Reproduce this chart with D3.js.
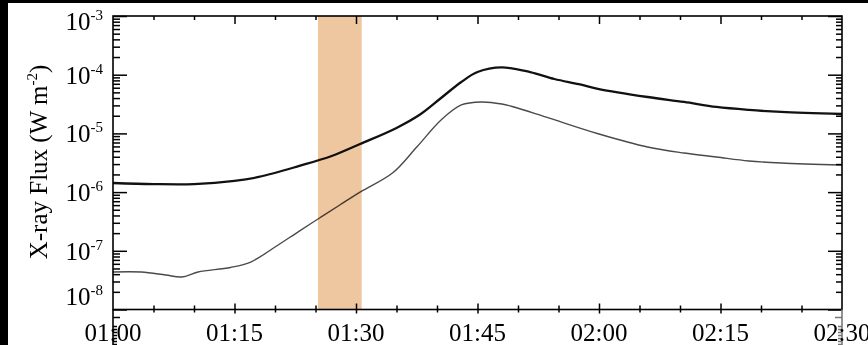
<!DOCTYPE html>
<html><head><meta charset="utf-8">
<script src="https://cdn.jsdelivr.net/npm/d3@7"></script>
<style>
html,body{margin:0;padding:0;background:#fff;}
svg{display:block;}
text{font-family:"Liberation Serif","Times New Roman",serif;fill:#000;}
</style></head>
<body>
<svg id="c" width="868" height="345"></svg>
<script>
// ---- data (minutes after 01:00 UT, flux in W m^-2) ----
const minutesLong = [0,5,10,15,18,23,27,30.5,35,38,40.5,43,45,48,51.5,54.5,57.5,60,66,70.5,74.5,78.5,82.5,90];
const longFlux = [1.43e-6,1.37e-6,1.37e-6,1.55e-6,1.81e-6,2.79e-6,4.12e-6,6.59e-6,1.24e-5,2.14e-5,4.01e-5,7.51e-5,1.11e-4,1.33e-4,1.11e-4,8.45e-5,6.9e-5,5.7e-5,4.17e-5,3.43e-5,2.82e-5,2.51e-5,2.32e-5,2.14e-5];
const minutesShort = [0,3.5,6.5,8.5,10.5,14.5,17,20,23,25.5,28,30.5,34.5,37.5,40.5,43,45.5,48,49.5,53.5,60,66,70.5,74.5,78.5,82.5,90];
const shortFlux = [4.35e-8,4.35e-8,3.87e-8,3.58e-8,4.35e-8,5.2e-8,6.44e-8,1.16e-7,2.17e-7,3.62e-7,6.03e-7,1.00e-6,2.11e-6,5.86e-6,1.69e-5,3.05e-5,3.43e-5,3.17e-5,2.82e-5,1.89e-5,9.77e-6,5.86e-6,4.63e-6,3.96e-6,3.39e-6,3.13e-6,2.90e-6];
const bandMinutes = [25.3, 30.7];
const xTickMinutes = [0,15,30,45,60,75,90];
const xTickLabels = ["01:00","01:15","01:30","01:45","02:00","02:15","02:30"];
const yDecades = [-3,-4,-5,-6,-7,-8];
const yTickLabels = ["-3","-4","-5","-6","-7","-8"];
const yTitle = "X-ray Flux (W m";
const yTitleSup = "-2";

// ---- layout ----
const L = 113, R = 842, T = 16, B = 309.5;
const svg = d3.select("#c");

// black border (top & left) as in the reference image
svg.append("rect").attr("x",0).attr("y",0).attr("width",868).attr("height",3).attr("fill","#000");
svg.append("rect").attr("x",0).attr("y",0).attr("width",8).attr("height",345).attr("fill","#000");

const x = d3.scaleLinear().domain([0,90]).range([L,R]);
const y = d3.scaleLog().domain([1e-8,1e-3]).range([B,T]);

// shaded band
svg.append("rect")
  .attr("x", x(bandMinutes[0])).attr("y", T)
  .attr("width", x(bandMinutes[1]) - x(bandMinutes[0]))
  .attr("height", B - T)
  .attr("fill", "#EEC6A0");

// curves
const line = (xs) => d3.line().x((d,i)=>x(xs[i])).y(d=>y(d)).curve(d3.curveCatmullRom.alpha(0.5));
svg.append("path").datum(shortFlux).attr("d", line(minutesShort))
  .attr("fill","none").attr("stroke","#4a4a4a").attr("stroke-width",1.4)
  .style("mix-blend-mode","multiply");
svg.append("path").datum(longFlux).attr("d", line(minutesLong))
  .attr("fill","none").attr("stroke","#111").attr("stroke-width",2.3)
  .style("mix-blend-mode","multiply");

// ---- axes ----
const minorX = d3.range(0,91,5).filter(m => m % 15 !== 0);
const majorX = xTickMinutes;
const yMajor = yDecades.map(d => Math.pow(10,d));
const yMinor = [];
for (let d=-8; d<-3; d++) for (let k=2;k<=9;k++) yMinor.push(k*Math.pow(10,d));

function styleAxis(g){ g.select(".domain").remove(); g.selectAll("line").attr("stroke","#000").attr("stroke-width",1.5); g.selectAll("text").remove(); }

// bottom: ticks crossing the axis
svg.append("g").attr("transform",`translate(0,${B})`).call(d3.axisBottom(x).tickValues(majorX.slice(1,-1)).tickSizeInner(-6).tickSizeOuter(0)).call(styleAxis);
svg.append("g").attr("transform",`translate(0,${B})`).call(d3.axisBottom(x).tickValues(majorX.slice(1,-1)).tickSizeInner(4).tickSizeOuter(0)).call(styleAxis);
svg.append("g").attr("transform",`translate(0,${B})`).call(d3.axisBottom(x).tickValues(minorX).tickSizeInner(-4).tickSizeOuter(0)).call(styleAxis);
svg.append("g").attr("transform",`translate(0,${B})`).call(d3.axisBottom(x).tickValues(minorX).tickSizeInner(3).tickSizeOuter(0)).call(styleAxis);
// top
svg.append("g").attr("transform",`translate(0,${T})`).call(d3.axisTop(x).tickValues(majorX.slice(1,-1)).tickSizeInner(-8).tickSizeOuter(0)).call(styleAxis);
svg.append("g").attr("transform",`translate(0,${T})`).call(d3.axisTop(x).tickValues(minorX).tickSizeInner(-4).tickSizeOuter(0)).call(styleAxis);
// left
svg.append("g").attr("transform",`translate(${L},0)`).call(d3.axisLeft(y).tickValues(yMajor).tickSizeInner(-14).tickSizeOuter(0)).call(styleAxis);
svg.append("g").attr("transform",`translate(${L},0)`).call(d3.axisLeft(y).tickValues(yMinor).tickSizeInner(-7).tickSizeOuter(0)).call(styleAxis);
// right
svg.append("g").attr("transform",`translate(${R},0)`).call(d3.axisRight(y).tickValues(yMajor).tickSizeInner(-14).tickSizeOuter(0)).call(styleAxis);
svg.append("g").attr("transform",`translate(${R},0)`).call(d3.axisRight(y).tickValues(yMinor).tickSizeInner(-6).tickSizeOuter(0)).call(styleAxis);

// frame
svg.append("rect").attr("x",L).attr("y",T).attr("width",R-L).attr("height",B-T)
  .attr("fill","none").attr("stroke","#000").attr("stroke-width",1.6);

// partial panel below (its y-axis peeks in under the x-axis)
const yLow = d3.scaleLinear().domain([0,10]).range([317,347]);
[[L,1,"#000"],[R,-1,"#777"]].forEach(([px,dir,col])=>{
  svg.append("line").attr("x1",px).attr("x2",px).attr("y1",B).attr("y2",345).attr("stroke",col).attr("stroke-width",1.6);
  const g = svg.append("g").attr("transform",`translate(${px},0)`);
  const ax = dir>0 ? d3.axisLeft(yLow) : d3.axisRight(yLow);
  g.call(ax.tickValues(d3.range(3,10)).tickSizeInner(-4).tickSizeOuter(0)).call(styleAxis);
  g.selectAll("line").attr("stroke",col);
  const g2 = svg.append("g").attr("transform",`translate(${px},0)`);
  g2.call((dir>0 ? d3.axisLeft(yLow) : d3.axisRight(yLow)).tickValues([0]).tickSizeInner(-7).tickSizeOuter(0)).call(styleAxis);
  g2.selectAll("line").attr("stroke",col);
});

// x tick labels
svg.append("g").selectAll("text").data(xTickMinutes).join("text")
  .attr("x", d=>x(d)).attr("y", 341)
  .attr("text-anchor","middle").attr("font-size",25)
  .text((d,i)=>xTickLabels[i]);

// y tick labels (10^n)
const yl = svg.append("g");
yDecades.forEach((d,i)=>{
  let yy = y(Math.pow(10,d)) + 9;
  if (i===0) yy += 5;
  if (i===yDecades.length-1) yy -= 14;
  const t = yl.append("text").attr("x",103).attr("y",yy).attr("text-anchor","end").attr("font-size",25);
  t.append("tspan").text("10");
  t.append("tspan").attr("font-size",15).attr("dy",-10).text(yTickLabels[i]);
});

// y title
const tt = svg.append("text").attr("transform","translate(47,162) rotate(-90)")
  .attr("text-anchor","middle").attr("font-size",25);
tt.append("tspan").text(yTitle);
tt.append("tspan").attr("font-size",15).attr("dy",-10).text(yTitleSup);
tt.append("tspan").attr("dy",10).text(")");
</script>
</body></html>
